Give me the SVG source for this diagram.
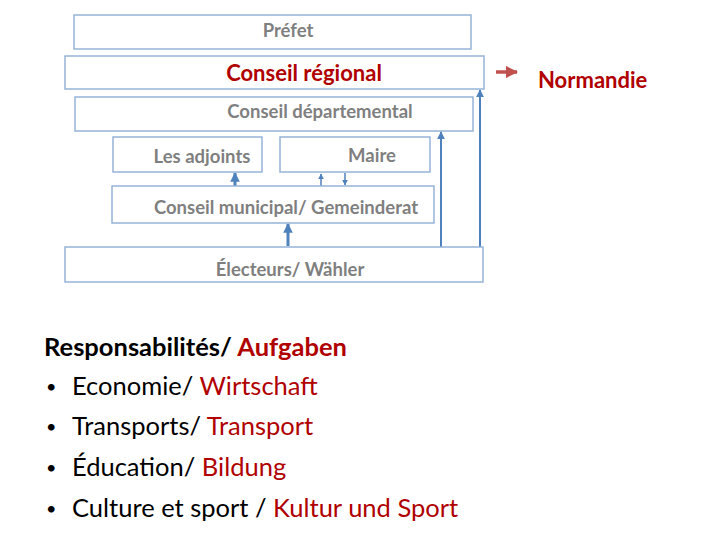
<svg xmlns="http://www.w3.org/2000/svg" width="720" height="540" viewBox="0 0 720 540">
<defs>
<style>
.box{fill:#fff;stroke:#95b3d7;stroke-width:1.5}
.lbl{font-family:Lato,"Liberation Sans",sans-serif;font-weight:bold;fill:#7f7f7f;font-size:18.5px}
.big{font-size:22px}
.red{fill:#b00000}
.blk{fill:#000}
.body{font-family:Lato,"Liberation Sans",sans-serif;font-size:25.5px}
.bul{font-size:18px}
.conn{stroke:#4f81bd;fill:none}
</style>
<marker id="ah" viewBox="0 0 10 10" refX="9" refY="5" markerWidth="4" markerHeight="4" orient="auto" markerUnits="strokeWidth"><path d="M0,0L10,5L0,10z" fill="#4f81bd"/></marker>
<marker id="ahs" viewBox="0 0 10 10" refX="9" refY="5" markerWidth="3.2" markerHeight="3.2" orient="auto" markerUnits="strokeWidth"><path d="M0,0L10,5L0,10z" fill="#4f81bd"/></marker>
<marker id="ahr" viewBox="0 0 10 10" refX="9" refY="5" markerWidth="3.5" markerHeight="3.5" orient="auto" markerUnits="strokeWidth"><path d="M0,0L10,5L0,10z" fill="#c0504d"/></marker>
</defs>
<rect width="720" height="540" fill="#fff"/>
<g id="connectors">
<line class="conn" x1="441" y1="247" x2="441" y2="132" stroke-width="2" marker-end="url(#ah)"/>
<line class="conn" x1="480" y1="247" x2="480" y2="90" stroke-width="2" marker-end="url(#ah)"/>
<line class="conn" x1="235" y1="186" x2="235" y2="173" stroke-width="3" marker-end="url(#ahs)"/>
<line class="conn" x1="288" y1="246" x2="288" y2="224" stroke-width="3" marker-end="url(#ahs)"/>
<line class="conn" x1="321" y1="186" x2="321" y2="174" stroke-width="1.5" marker-end="url(#ah)"/>
<line class="conn" x1="345" y1="173" x2="345" y2="185" stroke-width="1.5" marker-end="url(#ah)"/>
<line x1="496" y1="72" x2="517" y2="72" stroke="#c0504d" stroke-width="3.5" marker-end="url(#ahr)"/>
</g>
<g id="prefet"><rect class="box" x="74" y="15" width="397" height="34"/><text class="lbl" x="288" y="37" text-anchor="middle">Préfet</text></g>
<g id="conseil-regional"><rect class="box" x="65" y="56" width="419" height="33"/><text class="lbl big red" x="304" y="81" text-anchor="middle">Conseil régional</text></g>
<g id="conseil-departemental"><rect class="box" x="75" y="97" width="398" height="34"/><text class="lbl" x="320" y="118" text-anchor="middle">Conseil départemental</text></g>
<g id="adjoints"><rect class="box" x="113" y="137" width="149" height="35"/><text class="lbl" x="202" y="163" text-anchor="middle">Les adjoints</text></g>
<g id="maire"><rect class="box" x="280" y="137" width="150" height="35"/><text class="lbl" x="372" y="162" text-anchor="middle">Maire</text></g>
<g id="conseil-municipal"><rect class="box" x="112" y="186" width="322" height="37"/><text class="lbl" x="286" y="214" text-anchor="middle">Conseil municipal/ Gemeinderat</text></g>
<g id="electeurs"><rect class="box" x="65" y="247" width="418" height="35"/><text class="lbl" x="290" y="276" text-anchor="middle">Électeurs/ Wähler</text></g>
<g id="normandie"><text class="lbl big red" x="538" y="88">Normandie</text></g>
<g id="responsabilites" class="body">
<text x="44" y="356" font-weight="bold" class="blk">Responsabilités/ <tspan class="red">Aufgaben</tspan></text>
<text x="46" y="393" class="blk bul">•</text><text x="72" y="395" class="blk">Economie/ <tspan class="red">Wirtschaft</tspan></text>
<text x="46" y="433" class="blk bul">•</text><text x="72" y="435" class="blk">Transports/ <tspan class="red">Transport</tspan></text>
<text x="46" y="474" class="blk bul">•</text><text x="72" y="476" class="blk">Éducation/ <tspan class="red">Bildung</tspan></text>
<text x="46" y="515" class="blk bul">•</text><text x="72" y="517" class="blk">Culture et sport / <tspan class="red">Kultur und Sport</tspan></text>
</g>
</svg>
